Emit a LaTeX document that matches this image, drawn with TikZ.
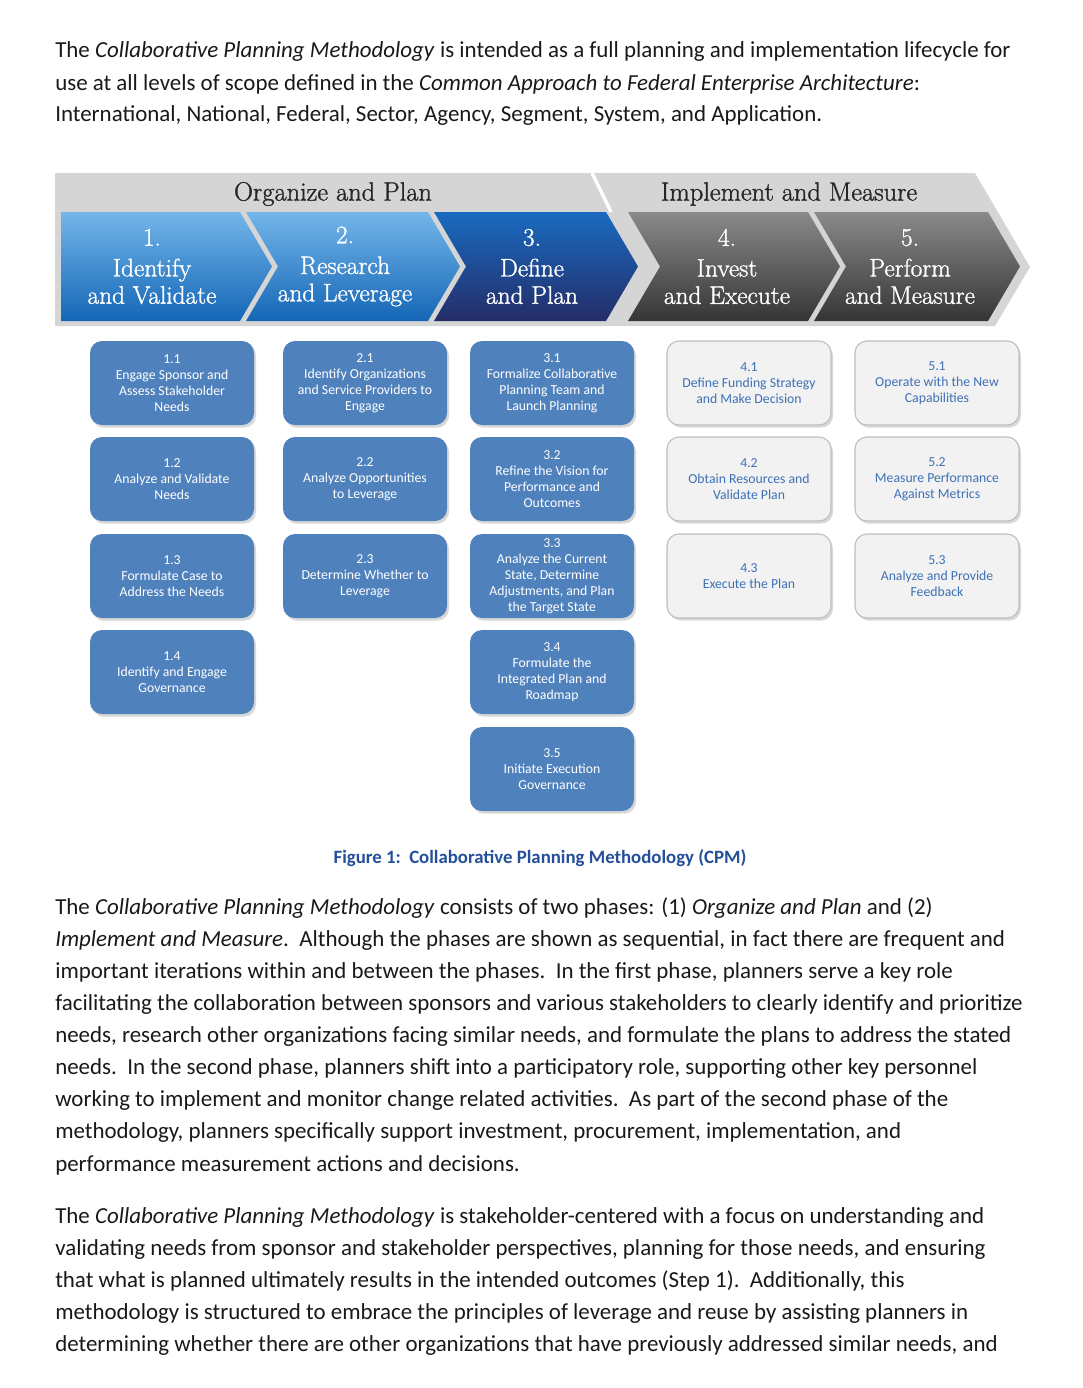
\documentclass[tikz,border=0pt]{standalone}
\usepackage{fontspec}
\newfontfamily\calibrifont{Carlito}
\newfontfamily\hdrfont{Latin Modern Roman}[FakeBold=1.2]
\usetikzlibrary{shadows}
\definecolor{boxblue}{HTML}{4F81BD}
\definecolor{boxgrey}{HTML}{F2F2F2}
\definecolor{boxedge}{HTML}{BDBDBD}
\definecolor{greytext}{HTML}{3E70B5}
\definecolor{bandgrey}{HTML}{D5D5D5}
\definecolor{captionblue}{HTML}{234F9B}
\definecolor{lbtop}{HTML}{74B6EA}
\definecolor{lbbot}{HTML}{1466B6}
\definecolor{dbtop}{HTML}{1A6BC0}
\definecolor{dbbot}{HTML}{242C68}
\definecolor{gtop}{HTML}{8A8A8A}
\definecolor{gbot}{HTML}{353535}
\tikzset{
  bodytext/.style={anchor=base west, inner sep=0pt, font=\calibrifont\fontsize{17.2}{20}\selectfont, text=black!90},
  phasetext/.style={inner sep=0pt, font=\hdrfont\fontsize{19.8}{22}\selectfont, text=black!85},
  chevtext/.style={inner sep=0pt, align=center, text=white, font=\hdrfont\fontsize{19}{20.5}\selectfont},
  stepbox/.style={rounded corners=9pt, minimum width=123pt, minimum height=63pt, inner sep=2pt,
     align=center, font=\calibrifont\fontsize{10.3}{12}\selectfont,
     drop shadow={shadow xshift=1.5pt, shadow yshift=-2pt, opacity=0.3}},
  bluebox/.style={stepbox, fill=boxblue, text=white},
  greybox/.style={stepbox, fill=boxgrey, draw=boxedge, line width=0.8pt, text=greytext},
}
\begin{document}
\begin{tikzpicture}[x=0.75pt,y=-0.75pt]
\useasboundingbox[fill=white] (0,0) rectangle (1082,1388);

% ---- top paragraph
\node[bodytext] (p1a) at (55,58) {The \textit{Collaborative Planning Methodology} is intended as a full planning and implementation lifecycle for};
\node[bodytext] (p1b) at (55,90) {use at all levels of scope defined in the \textit{Common Approach to Federal Enterprise Architecture}:};
\node[bodytext] (p1c) at (55,122) {International, National, Federal, Sector, Agency, Segment, System, and Application.};

% ---- phase band
\fill[bandgrey] (55,173) -- (975,173) -- (1030,267) -- (995,326) -- (55,326) -- cycle;
\draw[white, line width=2.5pt] (592,173) -- (611,212);

% ---- chevrons
\shade[top color=lbtop, bottom color=lbbot] (61,212) -- (240,212) -- (272,266.5) -- (240,321) -- (61,321) -- cycle;
\shade[top color=lbtop, bottom color=lbbot] (246,212) -- (428,212) -- (460,266.5) -- (428,321) -- (246,321) -- (278,266.5) -- cycle;
\shade[top color=dbtop, bottom color=dbbot] (434,212) -- (606,212) -- (638,266.5) -- (606,321) -- (434,321) -- (466,266.5) -- cycle;
\shade[top color=gtop, bottom color=gbot] (628,212) -- (808,212) -- (840,266.5) -- (808,321) -- (628,321) -- (660,266.5) -- cycle;
\shade[top color=gtop, bottom color=gbot] (814,212) -- (988,212) -- (1020,266.5) -- (988,321) -- (814,321) -- (846,266.5) -- cycle;

\node[phasetext] (ph1) at (333,194) {Organize and Plan};
\node[phasetext] (ph2) at (789,194) {Implement and Measure};

\node[chevtext] (c1) at (152,266.5) {1.\\[2.5pt]Identify\\and Validate};
\node[chevtext] (c2) at (345,266.5) {2.\\[2.5pt]Research\\and Leverage};
\node[chevtext] (c3) at (532,266.5) {3.\\[2.5pt]Define\\and Plan};
\node[chevtext] (c4) at (727,266.5) {4.\\[2.5pt]Invest\\and Execute};
\node[chevtext] (c5) at (910,266.5) {5.\\[2.5pt]Perform\\and Measure};

% ---- step boxes
\node[bluebox] (b11) at (172,383) {1.1\\Engage Sponsor and\\Assess Stakeholder\\Needs};
\node[bluebox] (b12) at (172,479) {1.2\\Analyze and Validate\\Needs};
\node[bluebox] (b13) at (172,576) {1.3\\Formulate Case to\\Address the Needs};
\node[bluebox] (b14) at (172,672) {1.4\\Identify and Engage\\Governance};

\node[bluebox] (b21) at (365,383) {2.1\\Identify Organizations\\and Service Providers to\\Engage};
\node[bluebox] (b22) at (365,479) {2.2\\Analyze Opportunities\\to Leverage};
\node[bluebox] (b23) at (365,576) {2.3\\Determine Whether to\\Leverage};

\node[bluebox] (b31) at (552,383) {3.1\\Formalize Collaborative\\Planning Team and\\Launch Planning};
\node[bluebox] (b32) at (552,479) {3.2\\Refine the Vision for\\Performance and\\Outcomes};
\node[bluebox] (b33) at (552,576) {3.3\\Analyze the Current\\State, Determine\\Adjustments, and Plan\\the Target State};
\node[bluebox] (b34) at (552,672) {3.4\\Formulate the\\Integrated Plan and\\Roadmap};
\node[bluebox] (b35) at (552,769) {3.5\\Initiate Execution\\Governance};

\node[greybox] (b41) at (749,383) {4.1\\Define Funding Strategy\\and Make Decision};
\node[greybox] (b42) at (749,479) {4.2\\Obtain Resources and\\Validate Plan};
\node[greybox] (b43) at (749,576) {4.3\\Execute the Plan};

\node[greybox] (b51) at (937,383) {5.1\\Operate with the New\\Capabilities};
\node[greybox] (b52) at (937,479) {5.2\\Measure Performance\\Against Metrics};
\node[greybox] (b53) at (937,576) {5.3\\Analyze and Provide\\Feedback};

% ---- caption
\node[inner sep=0pt, font=\calibrifont\bfseries\fontsize{14.1}{16}\selectfont, text=captionblue] (cap) at (540,858) {Figure 1:\ \ Collaborative Planning Methodology (CPM)};

% ---- second paragraph
\node[bodytext] (p2a) at (55,914) {The \textit{Collaborative Planning Methodology} consists of two phases: (1) \textit{Organize and Plan} and (2)};
\node[bodytext] (p2b) at (55,946) {\textit{Implement and Measure}.\ \ Although the phases are shown as sequential, in fact there are frequent and};
\node[bodytext] (p2c) at (55,978) {important iterations within and between the phases.\ \ In the first phase, planners serve a key role};
\node[bodytext] (p2d) at (55,1010) {facilitating the collaboration between sponsors and various stakeholders to clearly identify and prioritize};
\node[bodytext] (p2e) at (55,1042) {needs, research other organizations facing similar needs, and formulate the plans to address the stated};
\node[bodytext] (p2f) at (55,1074) {needs.\ \ In the second phase, planners shift into a participatory role, supporting other key personnel};
\node[bodytext] (p2g) at (55,1106) {working to implement and monitor change related activities.\ \ As part of the second phase of the};
\node[bodytext] (p2h) at (55,1138) {methodology, planners specifically support investment, procurement, implementation, and};
\node[bodytext] (p2i) at (55,1171) {performance measurement actions and decisions.};

% ---- third paragraph
\node[bodytext] (p3a) at (55,1223) {The \textit{Collaborative Planning Methodology} is stakeholder-centered with a focus on understanding and};
\node[bodytext] (p3b) at (55,1255) {validating needs from sponsor and stakeholder perspectives, planning for those needs, and ensuring};
\node[bodytext] (p3c) at (55,1287) {that what is planned ultimately results in the intended outcomes (Step 1).\ \ Additionally, this};
\node[bodytext] (p3d) at (55,1319) {methodology is structured to embrace the principles of leverage and reuse by assisting planners in};
\node[bodytext] (p3e) at (55,1351) {determining whether there are other organizations that have previously addressed similar needs, and};
\end{tikzpicture}
\end{document}
